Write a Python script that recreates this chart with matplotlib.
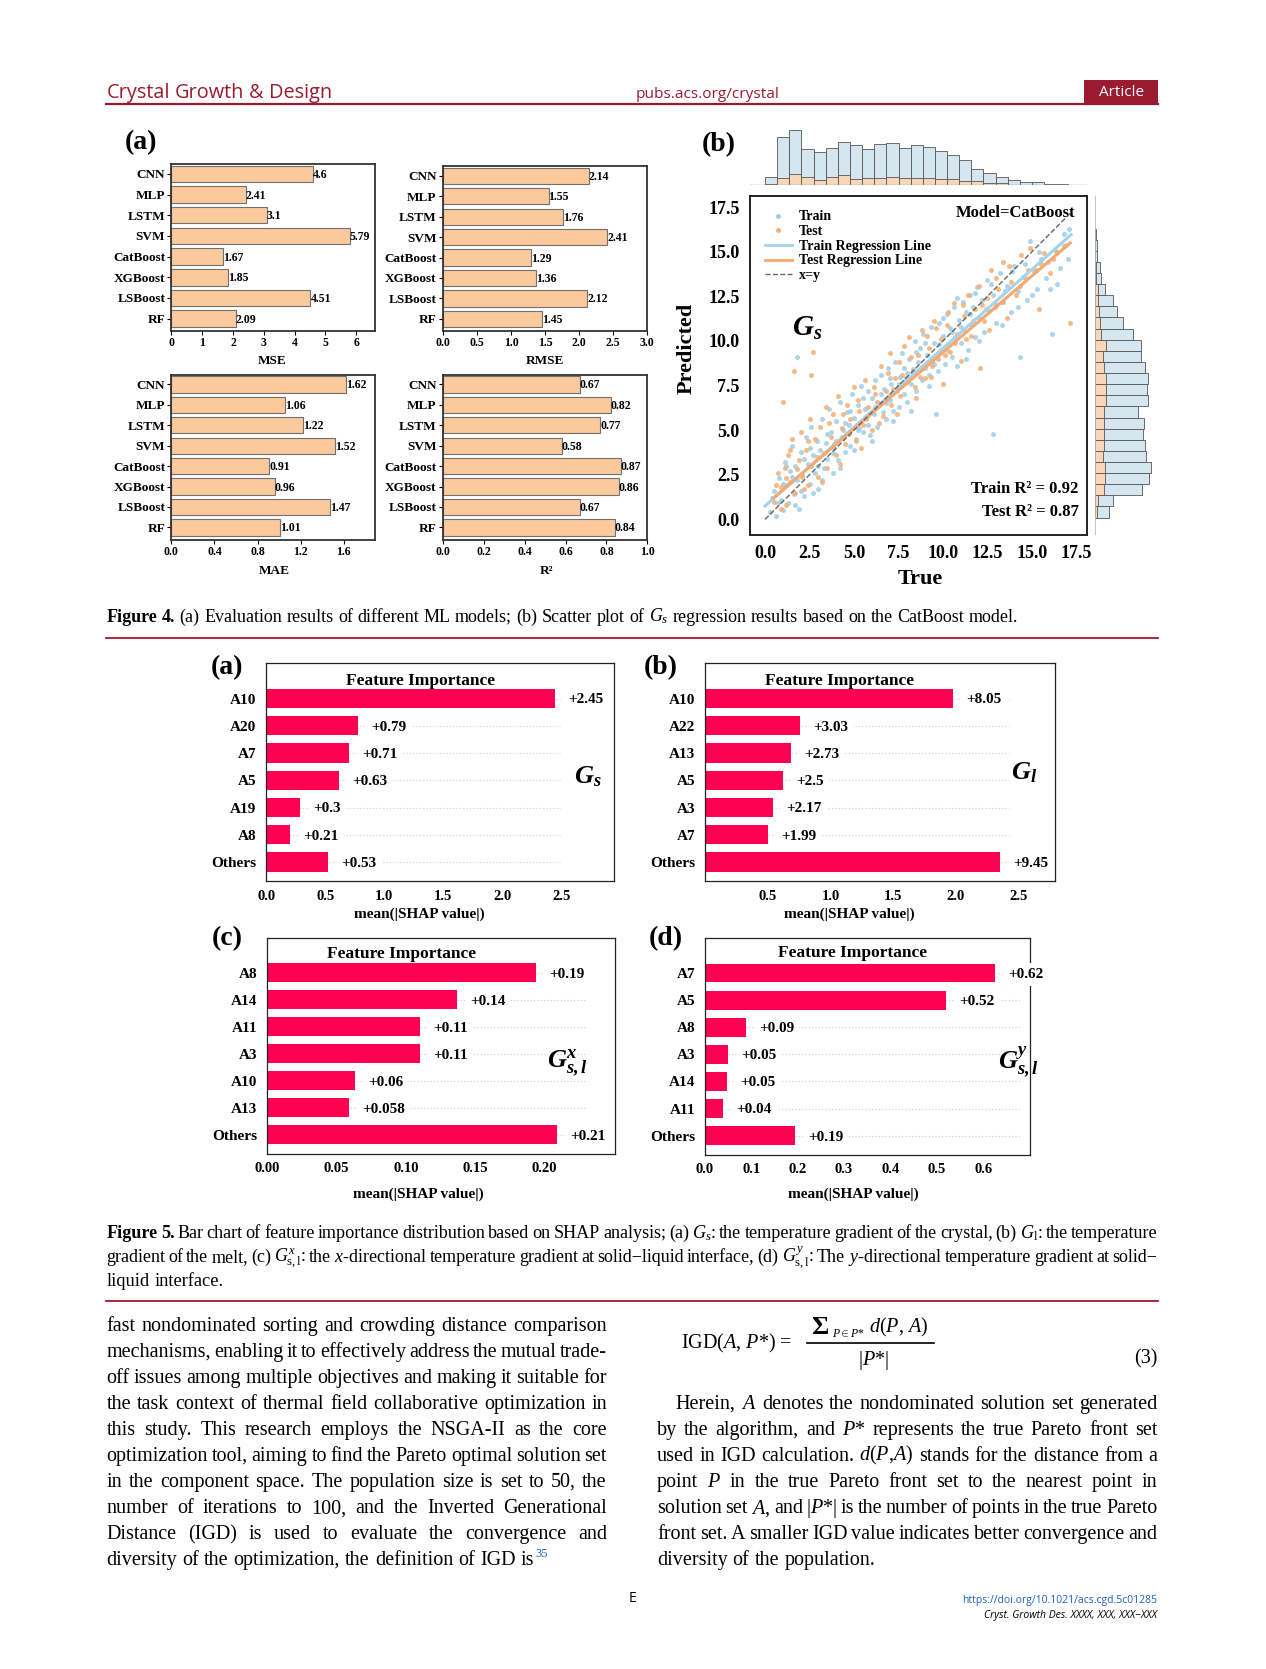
import matplotlib
matplotlib.use('Agg')
import matplotlib.pyplot as plt
import numpy as np
from matplotlib.lines import Line2D
from matplotlib.patches import Rectangle

# page size in pixels; layout positions below are measured on a 1189x1568 grid
W, H = 1266, 1669
SW, SH = 1189, 1568
S = W / SW

plt.rcParams['font.family'] = ['Liberation Serif', 'DejaVu Serif']
plt.rcParams['mathtext.fontset'] = 'custom'
plt.rcParams['mathtext.rm'] = 'Liberation Serif'
plt.rcParams['mathtext.it'] = 'Liberation Serif:italic'
plt.rcParams['mathtext.bf'] = 'Liberation Serif:italic:bold'

ACS_RED = '#9b1b30'
PEACH = '#fbc99c'
SHAP_RED = '#ff0052'

# ---------------- data: Figure 4(a) ----------------
models = ['CNN', 'MLP', 'LSTM', 'SVM', 'CatBoost', 'XGBoost', 'LSBoost', 'RF']
mse = [4.6, 2.41, 3.1, 5.79, 1.67, 1.85, 4.51, 2.09]
rmse = [2.14, 1.55, 1.76, 2.41, 1.29, 1.36, 2.12, 1.45]
mae = [1.62, 1.06, 1.22, 1.52, 0.91, 0.96, 1.47, 1.01]
r2 = [0.67, 0.82, 0.77, 0.58, 0.87, 0.86, 0.67, 0.84]

# ---------------- data: Figure 4(b) ----------------
train_true = [0.3, 0.5, 0.6, 0.8, 0.9, 1.0, 1.1, 1.2, 1.3, 1.4, 1.5, 1.6, 1.7, 1.8, 1.8, 1.9,
              2.0, 2.1, 2.2, 2.3, 2.4, 2.5, 2.6, 2.7, 2.8, 2.9, 3.0, 3.1, 3.2, 3.3, 3.4, 3.5,
              3.6, 3.7, 3.8, 3.9, 4.0, 4.1, 4.2, 4.3, 4.4, 4.5, 4.6, 4.7, 4.8, 4.9, 5.0, 5.1,
              5.2, 5.3, 5.4, 5.5, 5.6, 5.7, 5.8, 5.9, 6.0, 6.1, 6.2, 6.3, 6.4, 6.5, 6.6, 6.7,
              6.8, 6.9, 7.0, 7.1, 7.2, 7.3, 7.4, 7.5, 7.6, 7.7, 7.8, 7.9, 8.0, 8.1, 8.2, 8.3,
              8.4, 8.5, 8.6, 8.7, 8.8, 8.9, 9.0, 9.1, 9.2, 9.3, 9.4, 9.5, 9.6, 9.7, 9.8, 9.9,
              10.0, 10.1, 10.2, 10.3, 10.4, 10.5, 10.6, 10.7, 10.8, 10.9, 11.0, 11.1, 11.2,
              11.3, 11.4, 11.5, 11.6, 11.7, 11.8, 11.9, 12.0, 12.2, 12.3, 12.5, 12.6, 12.8,
              12.8, 13.0, 13.2, 13.4, 13.6, 13.8, 14.0, 14.2, 14.3, 14.5, 14.7, 14.9, 15.1,
              15.3, 15.5, 15.8, 16.0, 16.1, 16.3, 16.6, 16.9, 17.1,
              0.4, 0.7, 1.0, 1.2, 1.5, 1.7, 2.0, 2.2, 2.5, 2.7, 3.0, 3.2, 3.5, 3.8, 4.0, 4.2,
              4.5, 4.8, 5.0, 5.2, 5.5, 5.8, 6.0, 6.2, 6.5, 6.8, 7.0, 7.2, 7.5, 7.8, 8.0, 8.2,
              8.5, 8.8, 9.0, 9.2, 9.5, 9.8, 10.0, 10.2, 10.5, 10.8, 11.0, 11.3, 11.5, 11.8,
              12.0, 12.4, 12.7, 13.0, 13.3, 13.5, 13.9, 14.2, 14.6, 15.0, 15.4, 15.9, 16.4,
              16.8, 17.0]
train_pred = [0.4, 1.6, 0.2, 2.3, 1.1, 0.5, 3.2, 1.9, 0.9, 2.7, 4.1, 1.4, 3.0, 2.2, 9.1, 0.6,
              3.8, 2.5, 1.3, 4.6, 3.1, 2.0, 5.2, 3.6, 2.6, 4.4, 1.7, 3.9, 5.6, 2.9, 4.3, 3.4,
              6.2, 4.9, 2.6, 4.0, 5.5, 3.3, 6.6, 4.6, 5.0, 3.8, 6.0, 5.3, 4.1, 7.0, 5.7, 4.5,
              6.4, 5.1, 7.5, 4.9, 6.2, 5.6, 7.2, 4.7, 6.8, 5.9, 7.8, 5.2, 6.5, 8.1, 6.0, 7.3,
              5.6, 8.5, 6.7, 7.6, 6.1, 8.8, 7.2, 6.3, 8.0, 9.3, 7.0, 7.9, 6.6, 9.0, 7.6, 8.4,
              10.0, 7.2, 8.8, 9.6, 7.8, 10.4, 8.5, 9.2, 7.5, 10.8, 8.9, 9.9, 5.9, 8.3, 11.0, 9.4,
              10.3, 8.7, 11.5, 9.8, 10.7, 9.1, 11.9, 10.2, 8.6, 11.2, 9.9, 12.2, 10.6,
              11.6, 9.5, 12.6, 10.9, 11.9, 10.2, 13.0, 11.3, 12.3, 10.5, 13.4, 11.7, 4.8,
              12.6, 11.0, 13.8, 12.2, 13.1, 11.6, 14.2, 12.8, 9.1, 13.6, 12.3, 15.6, 13.9,
              12.9, 14.6, 13.5, 12.9, 10.4, 15.1, 14.1, 15.4, 16.3,
              1.2, 0.9, 2.0, 3.0, 2.4, 0.8, 1.6, 3.4, 4.0, 1.5, 3.0, 2.2, 4.8, 3.7, 4.4, 2.9,
              5.4, 6.1, 3.9, 5.0, 6.8, 5.3, 4.4, 6.3, 7.0, 6.5, 7.9, 5.5, 7.6, 8.5, 8.2, 6.1,
              9.4, 8.4, 9.9, 8.1, 8.7, 9.8, 11.3, 9.5, 10.5, 12.4, 10.8, 9.0, 11.5, 12.7,
              10.0, 11.8, 13.2, 12.0, 10.9, 12.8, 13.9, 11.9, 14.3, 12.6, 15.0, 14.4, 13.2,
              16.0, 14.6]
test_true = [0.5, 0.7, 0.9, 1.0, 1.1, 1.2, 1.3, 1.4, 1.6, 1.5, 1.7, 1.9, 2.0, 2.1, 2.3, 2.4,
             2.5, 2.6, 2.6, 2.7, 2.8, 3.0, 3.1, 3.3, 3.4, 3.5, 3.7, 3.8, 4.0, 4.1, 4.3, 4.5,
             4.6, 4.8, 5.0, 5.1, 5.3, 5.5, 5.6, 5.8, 6.0, 6.1, 6.3, 6.5, 6.6, 6.8, 7.0, 7.1,
             7.3, 7.5, 7.6, 7.8, 8.0, 8.1, 8.3, 8.5, 8.6, 8.8, 9.0, 9.2, 9.4, 9.5, 9.7, 9.9,
             10.0, 10.2, 10.4, 10.6, 10.8, 11.0, 11.2, 11.4, 11.6, 11.8, 12.0, 12.1, 12.3,
             12.5, 12.7, 12.9, 13.1, 13.4, 13.6, 13.8, 14.1, 14.4, 14.6, 14.9, 15.2, 15.4,
             15.7, 16.0, 16.4, 16.8, 17.15,
             0.6, 0.9, 1.2, 1.4, 1.8, 2.2, 2.4, 2.9, 3.2, 3.6, 3.9, 4.2, 4.4, 4.7, 5.2, 5.4,
             5.7, 6.2, 6.4, 6.9, 7.2, 7.4, 7.7, 8.2, 8.4, 8.7, 9.1, 9.3, 9.6, 10.1, 10.3,
             10.7, 11.1, 11.3, 11.7, 12.2, 12.6, 13.0, 13.3, 13.7, 14.3, 14.8, 15.5, 16.2]
test_pred = [1.0, 2.6, 1.8, 6.6, 2.9, 0.8, 3.6, 2.1, 8.3, 4.5, 1.5, 3.3, 4.9, 2.4, 3.9, 1.9,
             5.6, 8.1, 3.0, 9.4, 4.5, 2.4, 5.2, 3.7, 6.3, 2.9, 4.6, 5.9, 3.6, 6.9, 5.1, 4.2,
             6.4, 5.6, 7.4, 4.4, 6.1, 5.3, 7.8, 6.3, 5.0, 7.4, 6.6, 8.6, 5.8, 7.2, 9.3, 6.4,
             7.9, 8.8, 6.9, 9.7, 7.7, 10.2, 8.3, 6.8, 9.2, 10.6, 7.9, 9.6, 8.6, 11.1, 9.0, 10.1,
             7.6, 10.9, 9.4, 12.1, 10.4, 8.9, 11.4, 12.6, 10.3, 11.8, 13.1, 8.5, 11.1,
             12.4, 14.0, 11.9, 12.9, 14.4, 11.3, 13.3, 12.6, 14.8, 13.5, 15.2, 14.0, 11.8,
             14.9, 13.8, 15.0, 15.3, 11.0,
             1.9, 0.6, 2.3, 3.9, 2.8, 1.7, 4.4, 3.5, 2.1, 5.4, 4.2, 3.1, 5.9, 4.8, 6.7, 4.0,
             5.7, 7.0, 5.4, 8.2, 7.3, 5.9, 8.1, 9.1, 7.4, 8.0, 10.3, 8.0, 10.7, 9.2, 11.6,
             9.9, 12.0, 10.1, 11.1, 12.0, 10.6, 13.5, 12.2, 14.2, 13.1, 14.0, 14.3, 14.6]
train_fit = (0.884, 0.75)        # slope, intercept
test_fit = (0.857, 0.79)
train_fit_range = (0.0, 17.2)
test_fit_range = (0.5, 17.15)
diag_range = (0.0, 17.2)
# marginal histograms (bin range, counts)
true_bin_range = (0.0, 17.05)
true_train_counts = [25, 143, 165, 107, 98, 110, 130, 120, 107, 123, 125, 112, 120,
                     115, 103, 90, 75, 47, 35, 25, 17, 10, 9, 5, 5]
true_test_counts = [3, 23, 32, 25, 17, 25, 30, 20, 22, 22, 25, 23, 23, 23, 20, 20, 12,
                    14, 8, 7, 2, 1, 1, 0, 0]
pred_bin_range = (0.1, 16.3)
pred_train_counts = [43, 55, 140, 160, 165, 150, 148, 142, 145, 127, 158, 153, 157, 147,
                     136, 137, 112, 82, 67, 53, 30, 20, 15, 8, 6, 4]
pred_test_counts = [7, 10, 27, 32, 30, 25, 28, 28, 27, 27, 33, 33, 33, 27, 26, 33, 20,
                    15, 13, 10, 10, 5, 3, 2, 1, 1]

# ---------------- data: Figure 5 ----------------
feat_a = ['A10', 'A20', 'A7', 'A5', 'A19', 'A8', 'Others']
bar_a = [2.45, 0.78, 0.70, 0.62, 0.29, 0.20, 0.52]
text_a = ['+2.45', '+0.79', '+0.71', '+0.63', '+0.3', '+0.21', '+0.53']
feat_b = ['A10', 'A22', 'A13', 'A5', 'A3', 'A7', 'Others']
bar_b = [1.98, 0.757, 0.684, 0.624, 0.543, 0.50, 2.35]
text_b = ['+8.05', '+3.03', '+2.73', '+2.5', '+2.17', '+1.99', '+9.45']
feat_c = ['A8', 'A14', 'A11', 'A3', 'A10', 'A13', 'Others']
bar_c = [0.194, 0.137, 0.110, 0.110, 0.063, 0.059, 0.209]
text_c = ['+0.19', '+0.14', '+0.11', '+0.11', '+0.06', '+0.058', '+0.21']
feat_d = ['A7', 'A5', 'A8', 'A3', 'A14', 'A11', 'Others']
bar_d = [0.625, 0.52, 0.088, 0.050, 0.047, 0.039, 0.194]
text_d = ['+0.62', '+0.52', '+0.09', '+0.05', '+0.05', '+0.04', '+0.19']

# ---------------- text ----------------
cap4 = ('§Figure §4. (a) Evaluation results of different ML models; (b) Scatter plot of '
        '$G_s$ regression results based on the CatBoost model.')
cap5 = ['§Figure §5. Bar chart of feature importance distribution based on SHAP analysis; '
        '(a) $G_s$: the temperature gradient of the crystal, (b) $G_{\\mathrm{l}}$: the temperature',
        'gradient of the melt, (c) $G^{x}_{\\mathrm{s,l}}$: the $x$-directional temperature gradient '
        'at solid−liquid interface, (d) $G^{y}_{\\mathrm{s,l}}$: The $y$-directional temperature '
        'gradient at solid−',
        'liquid interface.']
left_col = ['fast nondominated sorting and crowding distance comparison',
            'mechanisms, enabling it to effectively address the mutual trade-',
            'off issues among multiple objectives and making it suitable for',
            'the task context of thermal field collaborative optimization in',
            'this study. This research employs the NSGA-II as the core',
            'optimization tool, aiming to find the Pareto optimal solution set',
            'in the component space. The population size is set to 50, the',
            'number of iterations to 100, and the Inverted Generational',
            'Distance (IGD) is used to evaluate the convergence and',
            'diversity of the optimization, the definition of IGD is']
right_col = ['Herein, $A$ denotes the nondominated solution set generated',
             'by the algorithm, and $P$* represents the true Pareto front set',
             'used in IGD calculation. $d$($P$,$A$) stands for the distance from a',
             'point $P$ in the true Pareto front set to the nearest point in',
             'solution set $A$, and |$P$*| is the number of points in the true Pareto',
             'front set. A smaller IGD value indicates better convergence and',
             'diversity of the population.']

fig = plt.figure(figsize=(W / 100, H / 100), dpi=100)
R = fig.canvas.get_renderer()


def fx(x):
    return x / SW


def fy(y):
    return 1 - y / SH


def add_ax(x0, y0, x1, y1):
    return fig.add_axes([fx(x0), fy(y1), (x1 - x0) / SW, (y1 - y0) / SH])


def put_words(text, x0, y, x1=None, size=12, mode='left', **kw):
    """Write one line word by word; mode 'justify' or 'fit' spreads it to x1."""
    arts = []
    for w in text.split(' '):
        weight = 'normal'
        if w.startswith('§'):
            w, weight = w[1:], 'bold'
        arts.append(fig.text(0, fy(y), w, fontsize=size, fontweight=weight,
                             va='baseline', ha='left', **kw))
    n = len(arts)

    def measure(sz):
        for a in arts:
            a.set_fontsize(sz)
        return np.array([a.get_window_extent(R).width for a in arts]), sz * 0.25 * 100 / 72

    ws, sp = measure(size)
    gap = sp
    if x1 is not None:
        target = (x1 - x0) * S
        if mode == 'fit':
            size *= target / (ws.sum() + sp * (n - 1))
            ws, sp = measure(size)
            gap = sp
        elif mode == 'justify':
            if ws.sum() + 0.6 * sp * (n - 1) > target:
                size *= target / (ws.sum() + 0.6 * sp * (n - 1))
                ws, sp = measure(size)
            gap = (target - ws.sum()) / max(n - 1, 1)
    x = x0 * S
    for a, w in zip(arts, ws):
        a.set_x(x / W)
        x += w + gap
    return (x - gap) / S


# ---------------- page header ----------------
put_words('Crystal Growth & Design', 100, 92, 310, size=13, mode='fit',
          family='Open Sans', color=ACS_RED)
put_words('pubs.acs.org/crystal', 597, 92, 732, size=10, mode='fit',
          family='Open Sans', color=ACS_RED)
fig.patches.append(Rectangle((fx(1018), fy(98)), 70 / SW, 23 / SH, transform=fig.transFigure,
                             facecolor=ACS_RED, edgecolor='none'))
fig.text(fx(1053), fy(87), 'Article', color='white', family='Open Sans', fontsize=11,
         ha='center', va='center')
for yy, lw in [(98, 1.6), (599, 1.3), (1222, 1.3)]:
    fig.add_artist(Line2D([fx(100), fx(1088)], [fy(yy), fy(yy)], color=ACS_RED, lw=lw))

# ---------------- Figure 4(a) ----------------
fig.text(fx(132), fy(134), '(a)', fontsize=20, fontweight='bold', ha='center', va='center')


def metric_panel(box, vals, xmax, ticks, ticklabels, xlabel, label_xy):
    ax = add_ax(*box)
    y = np.arange(len(models))
    ax.barh(y, vals, height=0.8, color=PEACH, edgecolor='#707070', linewidth=0.8)
    for yi, v in zip(y, vals):
        ax.text(v, yi + 0.05, f'{v:g}', fontsize=8.5, fontweight='bold', ha='left', va='center')
    ax.set_xlim(0, xmax)
    ax.set_ylim(len(models) - 0.4, -0.48)
    ax.set_yticks(y, models, fontsize=9.5, fontweight='bold')
    ax.set_xticks(ticks, ticklabels, fontsize=8.5, fontweight='bold')
    ax.tick_params(length=3, width=0.8, pad=1.5)
    for sp in ax.spines.values():
        sp.set_linewidth(1.3)
        sp.set_color('#333333')
    fig.text(fx(label_xy[0]), fy(label_xy[1]), xlabel, fontsize=9.5, fontweight='bold',
             ha='center', va='center')
    return ax


metric_panel((161, 154, 352, 311), mse, 6.6, range(7), [str(i) for i in range(7)],
             'MSE', (256, 339))
metric_panel((416, 156, 608, 311), rmse, 3.0, np.arange(0, 3.01, 0.5),
             [f'{v:.1f}' for v in np.arange(0, 3.01, 0.5)], 'RMSE', (512, 339))
metric_panel((161, 352, 352, 507), mae, 1.89, np.arange(0, 1.61, 0.4),
             [f'{v:.1f}' for v in np.arange(0, 1.61, 0.4)], 'MAE', (258, 536))
metric_panel((416, 352, 608, 507), r2, 1.0, np.arange(0, 1.01, 0.2),
             [f'{v:.1f}' for v in np.arange(0, 1.01, 0.2)], 'R²', (513, 536))

# ---------------- Figure 4(b) ----------------
fig.text(fx(675), fy(136), '(b)', fontsize=20, fontweight='bold', ha='center', va='center')
LIM = (-0.87, 18.1)
axm = add_ax(704, 184.5, 1021, 502.5)
axm.scatter(train_true, train_pred, s=13, color='#9fcde6', alpha=0.85, linewidths=0, zorder=2)
axm.scatter(test_true, test_pred, s=13, color='#f5ae73', alpha=0.85, linewidths=0, zorder=3)
xs = np.array(train_fit_range)
axm.plot(xs, train_fit[0] * xs + train_fit[1], color='#a6d2ea', lw=2.2, zorder=4)
xs = np.array(test_fit_range)
axm.plot(xs, test_fit[0] * xs + test_fit[1], color='#f4aa6f', lw=2.2, zorder=5)
axm.plot(diag_range, diag_range, color='#666666', lw=1, ls='--', zorder=6)
axm.set_xlim(*LIM)
axm.set_ylim(*LIM)
tk = np.arange(0, 17.6, 2.5)
axm.set_xticks(tk, [f'{v:.1f}' for v in tk], fontsize=13, fontweight='bold')
axm.set_yticks(tk, [f'{v:.1f}' for v in tk], fontsize=13, fontweight='bold')
axm.tick_params(length=0, pad=7)
for sp in axm.spines.values():
    sp.set_linewidth(1.4)
    sp.set_color('#222222')
handles = [Line2D([], [], ls='none', marker='o', ms=2.5, color='#9fcde6'),
           Line2D([], [], ls='none', marker='o', ms=2.5, color='#f5ae73'),
           Line2D([], [], color='#a6d2ea', lw=2),
           Line2D([], [], color='#f4aa6f', lw=2),
           Line2D([], [], color='#666666', lw=1, ls='--')]
axm.legend(handles, ['Train', 'Test', 'Train Regression Line', 'Test Regression Line', 'x=y'],
           loc='upper left', bbox_to_anchor=(0.03, 0.975), borderaxespad=0, frameon=False,
           prop={'weight': 'bold', 'size': 10}, labelspacing=0.12, handlelength=1.9,
           handletextpad=0.5)
axm.text(0.965, 0.975, 'Model=CatBoost', transform=axm.transAxes, ha='right', va='top',
         fontsize=12, fontweight='bold')
axm.text(0.975, 0.135, 'Train R² = 0.92', transform=axm.transAxes, ha='right',
         va='center', fontsize=12, fontweight='bold')
axm.text(0.975, 0.067, 'Test R² = 0.87', transform=axm.transAxes, ha='right',
         va='center', fontsize=12, fontweight='bold')
axm.text(0.17, 0.61, r'$\mathbf{G_s}$', transform=axm.transAxes, ha='center',
         va='center', fontsize=21)
fig.text(fx(645), fy(327), 'Predicted', rotation=90, fontsize=16, fontweight='bold',
         ha='center', va='center')
fig.text(fx(864), fy(544), 'True', fontsize=16, fontweight='bold', ha='center', va='center')

axt = add_ax(704, 118, 1021, 174)
edges = np.linspace(*true_bin_range, len(true_train_counts) + 1)
axt.bar(edges[:-1], true_train_counts, width=np.diff(edges), align='edge',
        color='#d6e6f0', edgecolor='#555555', linewidth=0.6)
axt.bar(edges[:-1], true_test_counts, width=np.diff(edges), align='edge',
        color='#f9d6b8', edgecolor='#555555', linewidth=0.6)
axt.set_xlim(*LIM)
axt.set_ylim(0, 178)
axt.axis('off')
axt.add_artist(Line2D([0, 1], [0, 0], transform=axt.transAxes, color='#999999', lw=1))

axr = add_ax(1028, 184.5, 1086, 502.5)
edges = np.linspace(*pred_bin_range, len(pred_train_counts) + 1)
axr.barh(edges[:-1], pred_train_counts, height=np.diff(edges), align='edge',
         color='#d6e6f0', edgecolor='#555555', linewidth=0.6)
axr.barh(edges[:-1], pred_test_counts, height=np.diff(edges), align='edge',
         color='#f9d6b8', edgecolor='#555555', linewidth=0.6)
axr.set_ylim(*LIM)
axr.set_xlim(0, 181)
axr.axis('off')
axr.add_artist(Line2D([0, 0], [0, 1], transform=axr.transAxes, color='#bbbbbb', lw=1.2))

put_words(cap4, 100, 584, 957, size=12.5, mode='fit')


# ---------------- Figure 5 ----------------
def shap_panel(box, feats, bars, texts, xmax, ticks, ticklabels, grid_end, title_x, title_y,
               glabel, g_xy, tag, tag_xy, xlabel_xy):
    ax = add_ax(*box)
    y = np.arange(len(feats))
    ax.hlines(y, 0, grid_end, colors='#cccccc', linestyles=(0, (1, 2)), lw=0.8, zorder=1)
    ax.barh(y, bars, height=0.7, color=SHAP_RED, zorder=2)
    for yi, v, t in zip(y, bars, texts):
        ax.annotate(t, (v, yi), xytext=(9.5, -1), textcoords='offset points', ha='left',
                    va='center', fontsize=11, fontweight='bold', zorder=3,
                    bbox=dict(boxstyle='square,pad=0.35', fc='white', ec='none'))
    ax.set_xlim(0, xmax)
    ax.set_ylim(len(feats) - 0.29, -1.3)
    ax.set_yticks(y, feats, fontsize=11, fontweight='bold')
    ax.set_xticks(ticks, ticklabels, fontsize=10.5, fontweight='bold')
    ax.tick_params(length=0, pad=6)
    ax.tick_params(axis='y', pad=7)
    for sp in ax.spines.values():
        sp.set_linewidth(0.9)
        sp.set_color('#222222')
    ax.text(title_x, title_y, 'Feature Importance', transform=ax.transAxes, ha='center',
            va='center', fontsize=12.5, fontweight='bold')
    ax.text(g_xy[0], g_xy[1], glabel, transform=ax.transAxes, ha='center', va='center',
            fontsize=19)
    fig.text(fx(tag_xy[0]), fy(tag_xy[1]), tag, fontsize=20, fontweight='bold',
             ha='center', va='center')
    fig.text(fx(xlabel_xy[0]), fy(xlabel_xy[1]), 'mean(|SHAP value|)', fontsize=11,
             fontweight='bold', ha='center', va='center')
    return ax


tk_a = np.arange(0, 2.51, 0.5)
shap_panel((250, 623, 577, 828), feat_a, bar_a, text_a, 2.95, tk_a, [f'{v:.1f}' for v in tk_a],
           2.49, 0.443, 0.92, r'$\mathbf{G_s}$', (0.924, 0.478), '(a)', (213, 627), (394, 859))
tk_b = np.arange(0.5, 2.51, 0.5)
shap_panel((662, 623, 991, 828), feat_b, bar_b, text_b, 2.79, tk_b, [f'{v:.1f}' for v in tk_b],
           2.42, 0.385, 0.92, r'$\mathbf{G_l}$', (0.912, 0.50), '(b)', (621, 627), (798, 859))
tk_c = np.arange(0, 0.201, 0.05)
shap_panel((251, 881, 578, 1084), feat_c, bar_c, text_c, 0.251, tk_c, [f'{v:.2f}' for v in tk_c],
           0.23, 0.386, 0.926, r'$\mathbf{G^x_{s,l}}$', (0.862, 0.414), '(c)', (213, 882),
           (393, 1122))
tk_d = np.arange(0, 0.61, 0.1)
shap_panel((662, 881, 967, 1085), feat_d, bar_d, text_d, 0.70, tk_d, [f'{v:.1f}' for v in tk_d],
           0.68, 0.456, 0.93, r'$\mathbf{G^y_{s,l}}$', (0.965, 0.426), '(d)', (625, 882),
           (801, 1122))

for i, line in enumerate(cap5):
    put_words(line, 100, 1163 + 22.6 * i, 1087, size=13.2,
              mode='justify' if i < len(cap5) - 1 else 'left')

# ---------------- body text ----------------
BASE = 1250
STEP = 24.5
for i, line in enumerate(left_col):
    last = i == len(left_col) - 1
    end = put_words(line, 100, BASE + STEP * i, None if last else 570, size=14.5,
                    mode='left' if last else 'justify')
fig.text(fx(end + 1), fy(BASE + STEP * 9 - 8), '35', fontsize=9, color='#1f5fbf',
         ha='left', va='baseline')

# equation (3), built from its pieces
fig.text(fx(640), fy(1267), r'IGD($A$, $P$*) =', fontsize=14.5, ha='left', va='baseline')
fig.text(fx(762), fy(1253), 'Σ', fontsize=19, fontweight='bold', ha='left', va='baseline')
fig.text(fx(781), fy(1256), r'$P\in P$*', fontsize=8.5, ha='left', va='baseline')
fig.text(fx(816), fy(1252), r'$d$($P$, $A$)', fontsize=14.5, ha='left', va='baseline')
fig.add_artist(Line2D([fx(758), fx(877)], [fy(1262), fy(1262)], color='black', lw=1.2))
fig.text(fx(820), fy(1282), r'|$P$*|', fontsize=14.5, ha='center', va='baseline')
fig.text(fx(1087), fy(1281), '(3)', fontsize=14.5, ha='right', va='baseline')
for i, line in enumerate(right_col):
    last = i == len(right_col) - 1
    x0 = 634 if i == 0 else 617
    put_words(line, x0, BASE + STEP * (i + 3), None if last else 1087, size=14.5,
              mode='left' if last else 'justify')

# ---------------- footer ----------------
fig.text(fx(594), fy(1502), 'E', family='Open Sans', fontsize=10, ha='center', va='center')
fig.text(fx(1087), fy(1506), 'https://doi.org/10.1021/acs.cgd.5c01285', family='Open Sans',
         fontsize=7.5, color='#1f5fbf', ha='right', va='baseline')
fig.text(fx(1087), fy(1520), 'Cryst. Growth Des. XXXX, XXX, XXX−XXX', family='Open Sans',
         fontsize=7.5, style='italic', ha='right', va='baseline')

fig.savefig('out.png', dpi=100)
